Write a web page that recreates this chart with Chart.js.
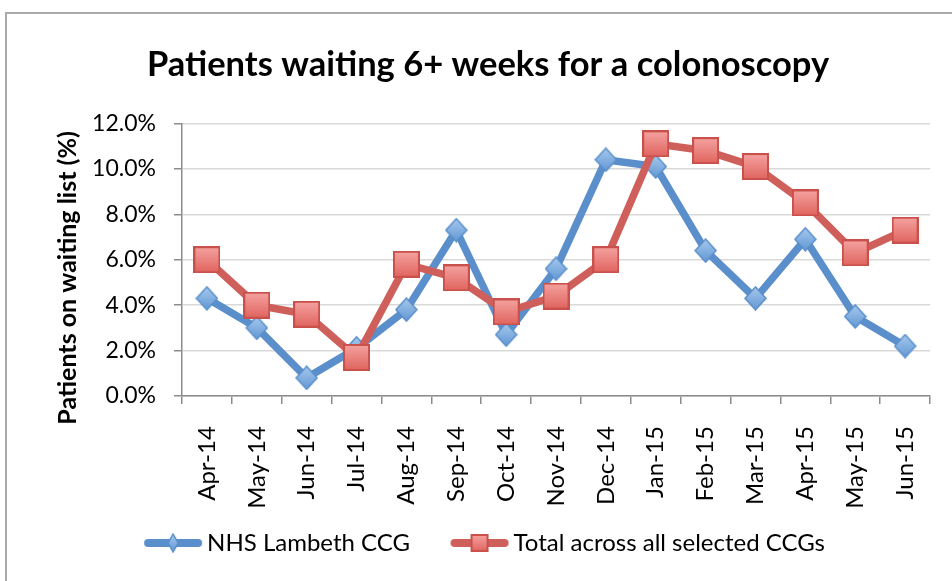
<!DOCTYPE html>
<html>
<head>
<meta charset="utf-8">
<script src="https://cdn.jsdelivr.net/npm/chart.js@4.4.1/dist/chart.umd.min.js"></script>
<style>
  html, body { margin: 0; padding: 0; background: #fff; overflow: hidden; }
  #frame { position: absolute; left: 5px; top: 12px; width: 980px; height: 620px; border: 2px solid #a9a9a9; }
  #wrap { position: absolute; left: 0; top: 0; width: 952px; height: 581px; }
</style>
</head>
<body>
<div id="frame"></div>
<div id="wrap"><canvas id="myLineChart" width="952" height="581"></canvas></div>
<script>
// Data
const months = ['Apr-14', 'May-14', 'Jun-14', 'Jul-14', 'Aug-14', 'Sep-14', 'Oct-14', 'Nov-14',
                'Dec-14', 'Jan-15', 'Feb-15', 'Mar-15', 'Apr-15', 'May-15', 'Jun-15'];
const lambeth = [4.3, 3.0, 0.8, 2.1, 3.8, 7.3, 2.7, 5.6, 10.4, 10.1, 6.4, 4.3, 6.9, 3.5, 2.2];
const allCcgs = [6.0, 4.0, 3.6, 1.7, 5.8, 5.2, 3.7, 4.4, 6.0, 11.1, 10.8, 10.1, 8.5, 6.3, 7.3];
const yTicks = [0, 2, 4, 6, 8, 10, 12];

const blue = '#5a8fcb';
const red = '#cf5f5a';

// marker images with a soft gradient, like the original Excel markers
function diamondImg(w, h) {
  const c = document.createElement('canvas');
  c.width = w; c.height = h;
  const g = c.getContext('2d');
  const grd = g.createLinearGradient(0, 0, 0, h);
  grd.addColorStop(0, '#a9cbef');
  grd.addColorStop(1, '#5f95d3');
  g.beginPath();
  g.moveTo(w / 2, 1); g.lineTo(w - 1, h / 2); g.lineTo(w / 2, h - 1); g.lineTo(1, h / 2);
  g.closePath();
  g.fillStyle = grd; g.fill();
  g.strokeStyle = '#5a8fcb'; g.lineWidth = 1.5; g.stroke();
  return c;
}
function squareImg(s) {
  const c = document.createElement('canvas');
  c.width = s; c.height = s;
  const g = c.getContext('2d');
  const grd = g.createLinearGradient(0, 0, 0, s);
  grd.addColorStop(0, '#f5a5a2');
  grd.addColorStop(1, '#e0625d');
  g.fillStyle = grd;
  g.fillRect(1, 1, s - 2, s - 2);
  g.strokeStyle = '#c9504b'; g.lineWidth = 2;
  g.strokeRect(1, 1, s - 2, s - 2);
  return c;
}
function legendImg(color, marker) {
  const c = document.createElement('canvas');
  c.width = 60; c.height = 26;
  const g = c.getContext('2d');
  g.strokeStyle = color; g.lineWidth = 8; g.lineCap = 'round';
  g.beginPath(); g.moveTo(5, 13); g.lineTo(55, 13); g.stroke();
  g.drawImage(marker, 30 - marker.width / 2, 13 - marker.height / 2);
  return c;
}

const diamond = diamondImg(23, 25);
const square = squareImg(27);
const diamondSmall = diamondImg(12, 20);
const squareSmall = squareImg(18);

const ctx = document.getElementById('myLineChart').getContext('2d');
new Chart(ctx, {
  type: 'line',
  data: {
    labels: months,
    datasets: [{
      label: 'NHS Lambeth CCG',
      data: lambeth,
      borderColor: blue,
      backgroundColor: blue,
      borderWidth: 7.5,
      pointStyle: diamond,
      legendImage: legendImg(blue, diamondSmall),
      legendGap: '\u00a0\u00a0\u00a0\u00a0',
      order: 2
    }, {
      label: 'Total across all selected CCGs',
      data: allCcgs,
      borderColor: red,
      backgroundColor: red,
      borderWidth: 7.5,
      pointStyle: square,
      legendImage: legendImg(red, squareSmall),
      legendGap: '',
      order: 1
    }]
  },
  options: {
    responsive: false,
    animation: false,
    layout: { padding: { left: 38, right: 14, top: 0, bottom: 16 } },
    plugins: {
      tooltip: { enabled: false },
      title: {
        display: true,
        text: 'Patients waiting 6+ weeks for a colonoscopy',
        color: '#000',
        font: { family: 'Lato', size: 34.5, weight: 'bold' },
        padding: { top: 44, bottom: 38 }
      },
      legend: {
        position: 'bottom',
        labels: {
          usePointStyle: true,
          pointStyleWidth: 44,
          padding: 23,
          color: '#000',
          font: { family: 'Lato', size: 24 },
          sort: (a, b) => a.datasetIndex - b.datasetIndex,
          generateLabels: chart => chart.data.datasets.map((ds, i) => ({
            text: ds.label + ds.legendGap,
            pointStyle: ds.legendImage,
            fillStyle: ds.borderColor,
            strokeStyle: ds.borderColor,
            lineWidth: 0,
            datasetIndex: i,
            hidden: false
          }))
        }
      }
    },
    scales: {
      x: {
        offset: true,
        grid: { offset: true, drawOnChartArea: false, drawTicks: true, tickLength: 8, color: '#8c8c8c', lineWidth: 1.5 },
        border: { color: '#8c8c8c', width: 1.5 },
        ticks: {
          maxRotation: 90, minRotation: 90, autoSkip: false, padding: 16,
          color: '#000', font: { family: 'Lato', size: 24 },
          // a trailing space keeps the rotated label clear of the tick marks
          callback: function(value) { return this.getLabelForValue(value) + '\u00a0'; }
        },
        afterFit: scale => { scale.height = 112; }
      },
      y: {
        min: 0,
        max: 12,
        afterBuildTicks: scale => { scale.ticks = yTicks.map(v => ({ value: v })); },
        grid: { color: '#d9d9d9', lineWidth: 1.5, tickLength: 8, tickColor: '#8c8c8c' },
        border: { color: '#8c8c8c', width: 1.5 },
        ticks: {
          padding: 18,
          color: '#000',
          font: { family: 'Lato', size: 23 },
          callback: value => value.toFixed(1) + '%'
        },
        title: {
          display: true,
          // trailing spaces push the title a little lower, as in the original
          text: 'Patients on waiting list (%)\u00a0\u00a0\u00a0\u00a0\u00a0\u00a0',
          color: '#000',
          font: { family: 'Lato', size: 25, weight: 'bold' },
          padding: { top: 15, bottom: 0 }
        },
        afterFit: scale => { scale.width = 144; }
      },
      // empty right-hand spacer so the plot ends where the reference does
      yRight: {
        position: 'right',
        display: true,
        grid: { drawOnChartArea: false, drawTicks: false },
        border: { display: false },
        ticks: { display: false },
        afterFit: scale => { scale.width = 8; }
      }
    }
  }
});
</script>
</body>
</html>
